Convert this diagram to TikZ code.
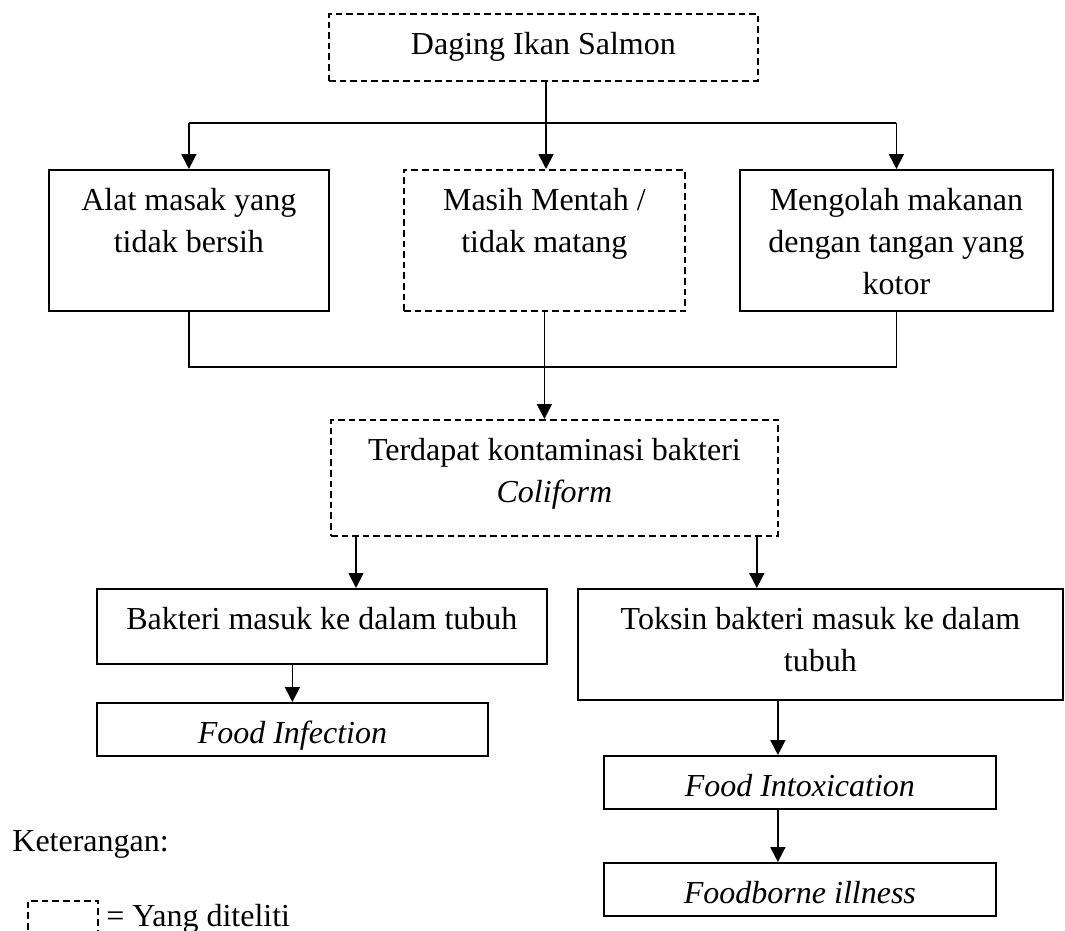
\documentclass[tikz,border=0pt]{standalone}
\usepackage{fontspec}
\setmainfont{Liberation Serif}
\usetikzlibrary{arrows.meta, calc, positioning}
\tikzset{>={Triangle[width=7.5pt,length=7.5pt]},
         dbox/.style={dash pattern=on 3.3pt off 2pt}}
% box text, top aligned: width and height in px
\newcommand{\boxtxt}[3]{\parbox[t][\dimexpr#2pt/2\relax][t]{\dimexpr#1pt/2\relax}{\centering\rule{0pt}{20.5pt}#3}}

\begin{document}
\begin{tikzpicture}[x=0.5pt, y=-0.5pt, font=\fontsize{16}{21}\selectfont]
    \useasboundingbox (0,0) rectangle (1065,931);
    \begin{scope}[every node/.style={draw, line width=0.9pt, inner sep=0pt, anchor=north west}]
      \node[dbox] (S) at (328,13) {\boxtxt{429}{67}{Daging Ikan Salmon}};
      \node (A) at (48,169) {\boxtxt{280}{141}{Alat masak yang\\tidak bersih}};
      \node[dbox] (M) at (403,169) {\boxtxt{281}{141}{Masih Mentah /\\tidak matang}};
      \node (K) at (739,169) {\boxtxt{313}{141}{Mengolah makanan\\dengan tangan yang\\kotor}};
      \node[dbox] (C) at (330,419) {\boxtxt{447}{116}{Terdapat kontaminasi bakteri\\\textit{Coliform}}};
      \node (B) at (96,588) {\boxtxt{450}{75}{Bakteri masuk ke dalam tubuh}};
      \node (T) at (577,588) {\boxtxt{485}{111}{Toksin bakteri masuk ke dalam\\tubuh}};
      \node (I) at (96,702) {\boxtxt{391}{53}{\textit{Food Infection}}};
      \node (X) at (603,755) {\boxtxt{392}{53}{\textit{Food Intoxication}}};
      \node (F) at (603,862) {\boxtxt{392}{53}{\textit{Foodborne illness}}};
      \node[dbox, minimum width=35pt, minimum height=25pt] (L) at (27,900) {};
    \end{scope}
    \node[anchor=base west, inner sep=0pt] (ket) at (12,851) {Keterangan:};
    \node[anchor=base west, inner sep=0pt] (leg) at (106,926) {= Yang diteliti};
    \coordinate (P) at (546,123);
    \coordinate (J) at (546,367);
    \coordinate (c1) at ([xshift=13pt]C.south west);
    \coordinate (c2) at ([xshift=-11pt]C.south east);
    \coordinate (c3) at ([xshift=-11pt]X.north);
    \begin{scope}[every edge/.style={draw=black, line width=0.9pt}]
      \draw[line width=0.9pt] (P -| A) -- (P -| K);
      \draw[line width=0.9pt] (A.south) |- (J) -| (K.south);
      \path [->] (S.south -| P) edge (P |- M.north);
      \path [->] (P -| A) edge (A);
      \path [->] (P -| K) edge (K);
      \path [->] (M.south) edge (M.south |- C.north);
      \path [->] (c1) edge (c1 |- B.north);
      \path [->] (c2) edge (c2 |- T.north);
      \path [->] (B.south -| I) edge (I);
      \path [->] (c3 |- T.south) edge (c3);
      \path [->] (c3 |- X.south) edge (c3 |- F.north);
    \end{scope}
\end{tikzpicture}
\end{document}
